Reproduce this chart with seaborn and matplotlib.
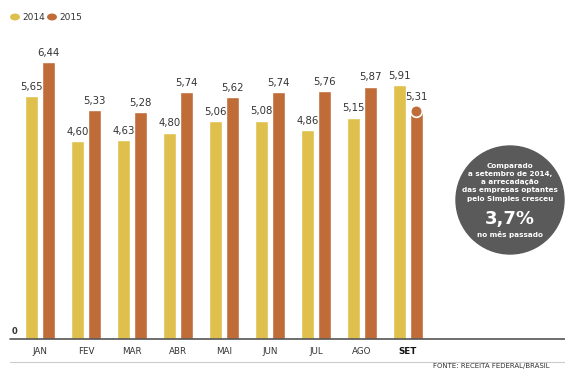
import matplotlib
matplotlib.use("Agg")
import matplotlib.pyplot as plt
import seaborn as sns
import pandas as pd
from matplotlib.patches import Circle

months = ["JAN", "FEV", "MAR", "ABR", "MAI", "JUN", "JUL", "AGO", "SET"]
v2014 = [5.65, 4.60, 4.63, 4.80, 5.06, 5.08, 4.86, 5.15, 5.91]
v2015 = [6.44, 5.33, 5.28, 5.74, 5.62, 5.74, 5.76, 5.87, 5.31]
years = ["2014", "2015"]
colors = ["#DFC04C", "#C06C38"]

df = pd.DataFrame({
    "mes": months * 2,
    "valor": v2014 + v2015,
    "ano": [years[0]] * len(months) + [years[1]] * len(months),
})

sns.set_style("white")
plt.rcParams["font.family"] = ["DejaVu Sans"]

W, H = 565, 370
fig = plt.figure(figsize=(W / 100, H / 100), dpi=100)
ax = fig.add_axes([10 / W, 1 - 339 / H, 1 - 10 / W, (339 - 40) / H])

sns.barplot(data=df, x="mes", y="valor", hue="ano", palette=colors,
            width=0.72, gap=0.22, saturation=1, ax=ax, legend=False)

spacing = 46.0
ax.set_xlim((10 - 40) / spacing, (565 - 40) / spacing)
ax.set_ylim(0, 299 / 43.0)

# value labels
for k, cont in enumerate(ax.containers):
    for j, (patch, val) in enumerate(zip(cont.patches, cont.datavalues)):
        cx = patch.get_x() + patch.get_width() / 2
        off = 0.2 if (k == 1 and j == len(months) - 1) else 0.1
        ax.text(cx, val + off, f"{val:.2f}".replace(".", ","), ha="center",
                va="bottom", fontsize=7.3, color="#333333")

# rounded top for last 2015 bar
last = ax.containers[1].patches[-1]
ax.scatter([last.get_x() + last.get_width() / 2], [v2015[-1]], s=70,
           color=colors[1], edgecolor="white", linewidth=1.2, zorder=5)

for s in ax.spines.values():
    s.set_visible(False)
ax.axhline(0, color="#555555", lw=1.2, clip_on=False)
ax.set_yticks([])
ax.set_xlabel("")
ax.set_ylabel("")
ax.tick_params(axis="x", length=0, pad=6, labelsize=6.3, labelcolor="#333333")
for lbl in ax.get_xticklabels():
    if lbl.get_text() == "SET":
        lbl.set_fontweight("bold")
        lbl.set_color("#111111")

ax.text(12 / W, 1 - 332 / H, "0", transform=fig.transFigure, fontsize=6,
        fontweight="bold", ha="left", va="center", color="#333333")

# bottom rule and source
fig.add_artist(plt.Line2D([10 / W, 1], [1 - 362 / H] * 2, color="#cccccc", lw=0.8))
fig.text(433 / W, 1 - 366 / H, "FONTE: RECEITA FEDERAL/BRASIL", fontsize=5,
         color="#333333", ha="left", va="center")

# legend
for i, (yr, c) in enumerate(zip(years, colors)):
    x0 = 15 + i * 37
    fig.add_artist(Circle((x0 / W, 1 - 17 / H), 0.0075, color=c,
                          transform=fig.transFigure))
    fig.text((x0 + 7) / W, 1 - 17 / H, yr, fontsize=6.5,
             color="#333333", ha="left", va="center")

# annotation circle
fig.add_artist(Circle((510, H - 200), 54, color="#5a5a5a",
                      transform=None, zorder=6))
fig.text(510 / W, 1 - 182 / H,
         "Comparado\na setembro de 2014,\na arrecadação\ndas empresas optantes\npelo Simples cresceu",
         fontsize=5.2, fontweight="bold", color="white",
         ha="center", va="center", linespacing=1.45, zorder=7)
fig.text(510 / W, 1 - 219 / H, "3,7%", fontsize=13, fontweight="bold",
         color="white", ha="center", va="center", zorder=7)
fig.text(510 / W, 1 - 234 / H, "no mês passado", fontsize=5.2,
         fontweight="bold", color="white", ha="center",
         va="center", zorder=7)

fig.savefig("out.png", dpi=100)
